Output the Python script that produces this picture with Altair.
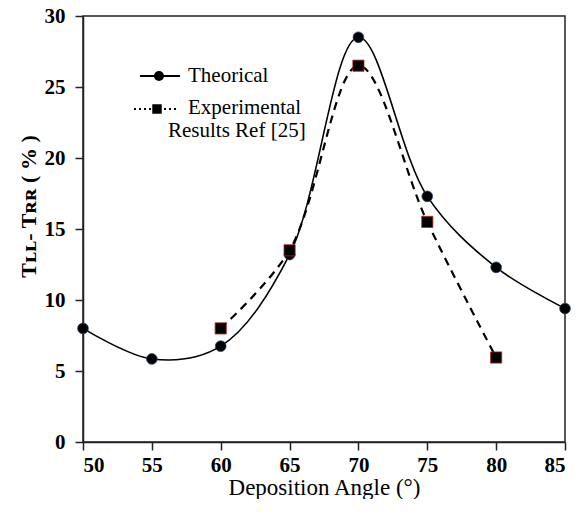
import altair as alt
import pandas as pd

# ---- data ----
angles_theory = [50, 55, 60, 65, 70, 75, 80, 85]
values_theory = [8.0, 5.85, 6.75, 13.2, 28.5, 17.3, 12.3, 9.4]
angles_exp = [60, 65, 70, 75, 80]
values_exp = [8.0, 13.5, 26.5, 15.5, 5.95]
x_ticks = [50, 55, 60, 65, 70, 75, 80, 85]
y_ticks = [0, 5, 10, 15, 20, 25, 30]
legend_labels = ["Theorical", "Experimental", "Results Ref [25]"]
x_title = "Deposition Angle (°)"
y_title = "Tʟʟ- Tʀʀ ( % )"

FONT = "'Liberation Serif', 'Times New Roman', Times, 'DejaVu Serif', serif"

theo = pd.DataFrame({"angle": angles_theory, "value": values_theory})
expd = pd.DataFrame({"angle": angles_exp, "value": values_exp})

x_enc = alt.X(
    "angle:Q",
    scale=alt.Scale(domain=[50, 85], nice=False, zero=False),
    axis=alt.Axis(values=x_ticks, title=x_title, titleFont=FONT, titleFontSize=23,
                  titleFontWeight="normal", titleY=45, titleBaseline="middle",
                  labelFont=FONT, labelFontSize=21, labelFontWeight="bold",
                  labelPadding=4, tickSize=8, grid=False),
)
y_enc = alt.Y(
    "value:Q",
    scale=alt.Scale(domain=[0, 30], nice=False),
    axis=alt.Axis(values=y_ticks, title=y_title, titleFont=FONT, titleFontSize=22,
                  titleFontWeight="bold", titleX=-55, titleY=190, titleAngle=-90,
                  titleAlign="center", titleBaseline="middle",
                  labelFont=FONT, labelFontSize=21, labelFontWeight="bold",
                  labelPadding=10, tickSize=8, grid=False),
)

theory_line = alt.Chart(theo).mark_line(
    interpolate="catmull-rom", color="black", strokeWidth=1.6
).encode(x=x_enc, y=y_enc)
theory_pts = alt.Chart(theo).mark_point(
    shape="circle", filled=True, fill="black", stroke="#23427a", strokeWidth=0.8,
    size=115, opacity=1
).encode(x=x_enc, y=y_enc)

exp_line = alt.Chart(expd).mark_line(
    interpolate="catmull-rom", color="black", strokeWidth=2.2, strokeDash=[8, 6]
).encode(x=x_enc, y=y_enc)
exp_pts = alt.Chart(expd).mark_point(
    shape="square", filled=True, fill="black", stroke="#c0242a", strokeWidth=0.8,
    size=125, opacity=1
).encode(x=x_enc, y=y_enc)

# ---- legend drawn inside the plot ----
one = pd.DataFrame({"k": [0]})
leg_line1 = alt.Chart(one).mark_rule(color="black", strokeWidth=2.2).encode(
    x=alt.value(57), x2=alt.value(97), y=alt.value(60))
leg_pt1 = alt.Chart(one).mark_point(shape="circle", filled=True, fill="black",
                                    size=100, opacity=1).encode(
    x=alt.value(76), y=alt.value(60))
leg_line2 = alt.Chart(one).mark_rule(color="black", strokeWidth=2, strokeDash=[2, 3]).encode(
    x=alt.value(51), x2=alt.value(95), y=alt.value(93))
leg_pt2 = alt.Chart(one).mark_point(shape="square", filled=True, fill="black",
                                    size=90, opacity=1).encode(
    x=alt.value(74), y=alt.value(93))
leg_t1 = alt.Chart(one).mark_text(text=legend_labels[0], font=FONT, fontSize=21,
                                  align="left", baseline="middle", color="black").encode(
    x=alt.value(105), y=alt.value(60))
leg_t2 = alt.Chart(one).mark_text(text=legend_labels[1], font=FONT, fontSize=21,
                                  align="left", baseline="middle", color="black").encode(
    x=alt.value(105), y=alt.value(92))
leg_t3 = alt.Chart(one).mark_text(text=legend_labels[2], font=FONT, fontSize=21,
                                  align="left", baseline="middle", color="black").encode(
    x=alt.value(85), y=alt.value(115))

chart = alt.layer(
    theory_line, exp_line, theory_pts, exp_pts,
    leg_line1, leg_pt1, leg_line2, leg_pt2, leg_t1, leg_t2, leg_t3,
).properties(
    width=482, height=426,
    autosize=alt.AutoSizeParams(type="none"),
    padding={"left": 75, "top": 8, "right": 6, "bottom": 57},
    background="white",
).configure_view(
    stroke="#222222", strokeWidth=1.5
).configure_axis(
    domainColor="#222222", domainWidth=1.5, tickColor="#222222", tickWidth=1.5,
    labelColor="black", titleColor="black",
)

chart.save("out.html", embed_options={"renderer": "svg", "actions": False})
